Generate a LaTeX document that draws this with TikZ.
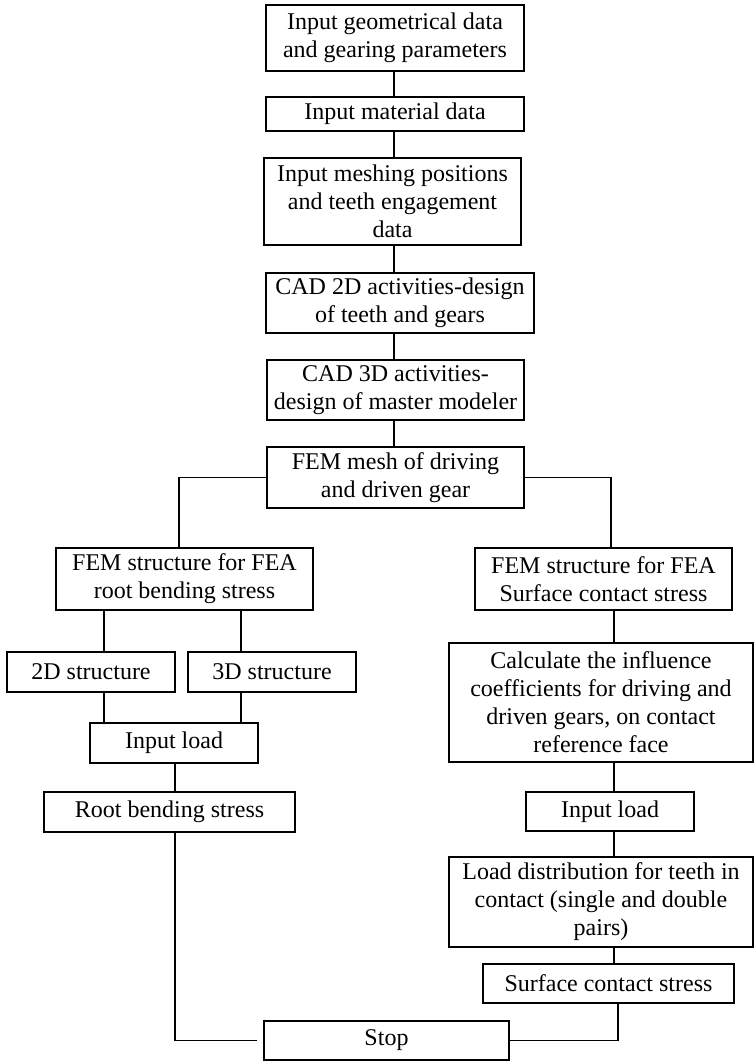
\documentclass[tikz,border=0pt]{standalone}
\usepackage{fontspec}
\setmainfont{Liberation Serif}
\begin{document}
\begin{tikzpicture}[x=0.5pt,y=-0.5pt,
  box/.style={draw=black, line width=0.9pt, inner sep=0pt, align=center,
    font=\fontsize{12}{14}\selectfont, text=black},
  link/.style={draw=black, line width=0.9pt}]
\useasboundingbox (0,0) rectangle (754,1061);

% main column
\node[box, minimum width=129pt, minimum height=33pt] (geo) at (395,38)
  {Input geometrical data\\and gearing parameters};
\node[box, minimum width=129pt, minimum height=17pt] (mat) at (395,114)
  {Input material data};
\node[box, minimum width=128.5pt, minimum height=43.5pt] (mesh) at (392.5,201.5)
  {Input meshing positions\\and teeth engagement\\data};
\node[box, minimum width=134pt, minimum height=30pt] (cad2) at (400,303)
  {CAD 2D activities-design\\of teeth and gears};
\node[box, minimum width=128.5pt, minimum height=30pt] (cad3) at (395.5,390)
  {CAD 3D activities-\\design of master modeler};
\node[box, minimum width=128.5pt, minimum height=30.5pt] (fem) at (395.5,477.5)
  {FEM mesh of driving\\and driven gear};

% root bending branch
\node[box, minimum width=128.5pt, minimum height=31pt] (root) at (184.5,579)
  {FEM structure for FEA\\root bending stress};
\node[box, minimum width=84pt, minimum height=20pt] (s2d) at (91,672)
  {2D structure};
\node[box, minimum width=84pt, minimum height=20pt] (s3d) at (272,672)
  {3D structure};
\node[box, minimum width=84pt, minimum height=20pt] (loadL) at (174,743)
  {Input load};
\node[box, minimum width=125.5pt, minimum height=20pt] (rbs) at (169.5,812)
  {Root bending stress};

% surface contact branch
\node[box, minimum width=128.5pt, minimum height=31pt] (surf) at (603.5,579)
  {FEM structure for FEA\\Surface contact stress};
\node[box, minimum width=152pt, minimum height=59.5pt] (calc) at (601,702.5)
  {Calculate the influence\\coefficients for driving and\\driven gears, on contact\\reference face};
\node[box, minimum width=84pt, minimum height=19.5pt] (loadR) at (610,811.5)
  {Input load};
\node[box, minimum width=152pt, minimum height=45pt] (dist) at (601,902)
  {Load distribution for teeth in\\contact (single and double\\pairs)};
\node[box, minimum width=125.5pt, minimum height=19.5pt] (scs) at (608.5,983.5)
  {Surface contact stress};

\node[box, minimum width=122.5pt, minimum height=19.5pt] (stop) at (386.5,1040.5)
  {Stop};

% connector columns
\coordinate (colT) at (394,0);
\coordinate (brL) at (179,0);
\coordinate (brR) at (611,0);
\coordinate (c2d) at (104,0);
\coordinate (c3d) at (241,0);
\coordinate (colL) at (175,0);
\coordinate (colR) at (614,0);
\coordinate (colS) at (618,0);

% connectors
\draw[link] (geo.south -| colT) -- (mat.north -| colT);
\draw[link] (mat.south -| colT) -- (mesh.north -| colT);
\draw[link] (mesh.south -| colT) -- (cad2.north -| colT);
\draw[link] (cad2.south -| colT) -- (cad3.north -| colT);
\draw[link] (cad3.south -| colT) -- (fem.north -| colT);
\draw[link] (fem.west) -| (root.north -| brL);
\draw[link] (fem.east) -| (surf.north -| brR);
\draw[link] (root.south -| c2d) -- (s2d.north -| c2d);
\draw[link] (root.south -| c3d) -- (s3d.north -| c3d);
\draw[link] (s2d.south -| c2d) -- (loadL.north -| c2d);
\draw[link] (s3d.south -| c3d) -- (loadL.north -| c3d);
\draw[link] (loadL.south -| colL) -- (rbs.north -| colL);
\draw[link, shorten >=3pt] (rbs.south -| colL) |- (stop.west);
\draw[link] (surf.south -| colR) -- (calc.north -| colR);
\draw[link] (calc.south -| colR) -- (loadR.north -| colR);
\draw[link] (loadR.south -| colR) -- (dist.north -| colR);
\draw[link] (dist.south -| colR) -- (scs.north -| colR);
\draw[link] (scs.south -| colS) |- (stop.east);
\end{tikzpicture}
\end{document}
